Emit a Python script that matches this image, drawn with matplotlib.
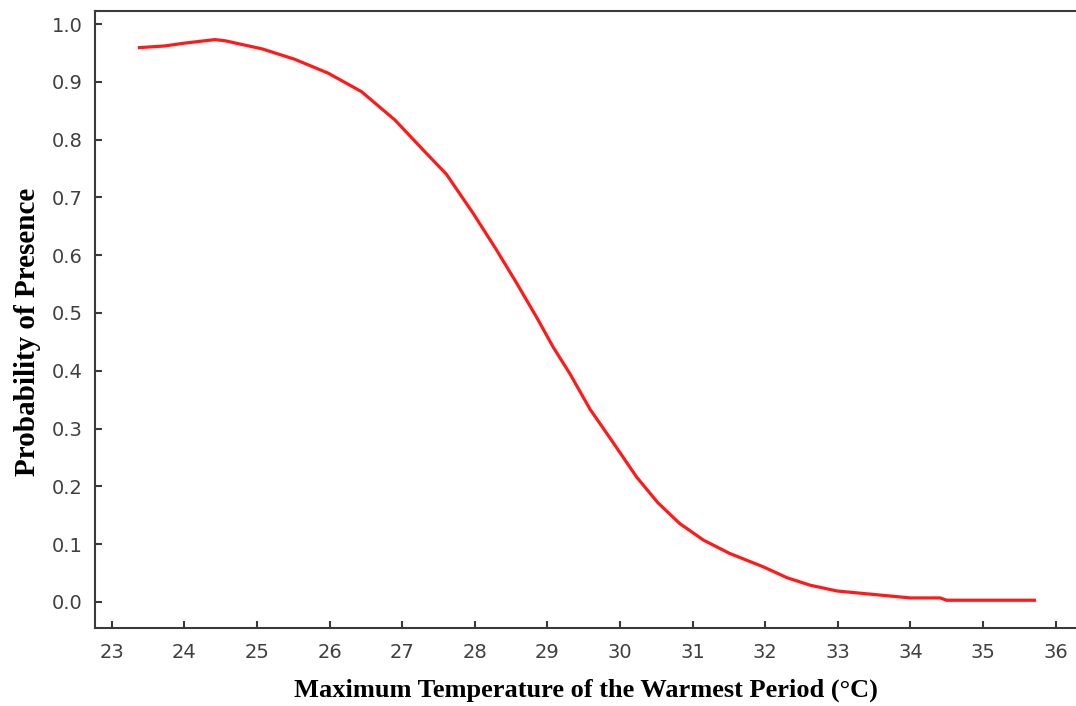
import matplotlib
matplotlib.use('Agg')
import matplotlib.pyplot as plt

# response curve
temp = [23.36, 23.73, 24.01, 24.42, 24.56, 25.07, 25.52, 25.98, 26.44, 26.90,
        27.29, 27.61, 27.98, 28.30, 28.58, 28.85, 29.08, 29.31, 29.59, 29.91,
        30.23, 30.52, 30.82, 31.15, 31.51, 31.97, 32.30, 32.62, 32.99, 33.58,
        34.00, 34.41, 34.50, 35.00, 35.73]
prob = [0.959, 0.962, 0.967, 0.973, 0.971, 0.957, 0.939, 0.915, 0.883, 0.834,
        0.782, 0.740, 0.672, 0.609, 0.551, 0.493, 0.441, 0.395, 0.333, 0.275,
        0.216, 0.172, 0.136, 0.107, 0.084, 0.061, 0.042, 0.029, 0.019, 0.012,
        0.007, 0.007, 0.003, 0.003, 0.003]

xticks = list(range(23, 37))
yticks = [i / 10 for i in range(11)]

fig = plt.figure(figsize=(10.76, 7.06), dpi=100)
ax = fig.add_axes([95 / 1076, 1 - 628 / 706, 1 - 95 / 1076, (628 - 11) / 706])

ax.plot(temp, prob, color='#ff1a1a', lw=2.3, solid_capstyle='butt')

ax.set_xlim(22.77, 36.28)
ax.set_ylim(-0.045, 1.0225)
ax.set_xticks(xticks)
ax.set_yticks(yticks)
ax.set_yticklabels(['%.1f' % v for v in yticks])

for s in ['left', 'bottom', 'top']:
    ax.spines[s].set_color('#3a3a3a')
    ax.spines[s].set_linewidth(1.5)
ax.spines['right'].set_visible(False)

ax.tick_params(direction='in', length=5, width=1.5, color='#3a3a3a',
               labelsize=14, labelcolor='#404040', pad=9)
ax.tick_params(axis='x', pad=11)

lab = dict(family='Liberation Serif', weight='bold', color='black')
ax.set_xlabel('Maximum Temperature of the Warmest Period (°C)', size=19,
              labelpad=12, **lab)
ax.set_ylabel('Probability of Presence', size=21, **lab)
ax.yaxis.set_label_coords(-0.055, 0.48)

fig.savefig('out.png', dpi=100)
